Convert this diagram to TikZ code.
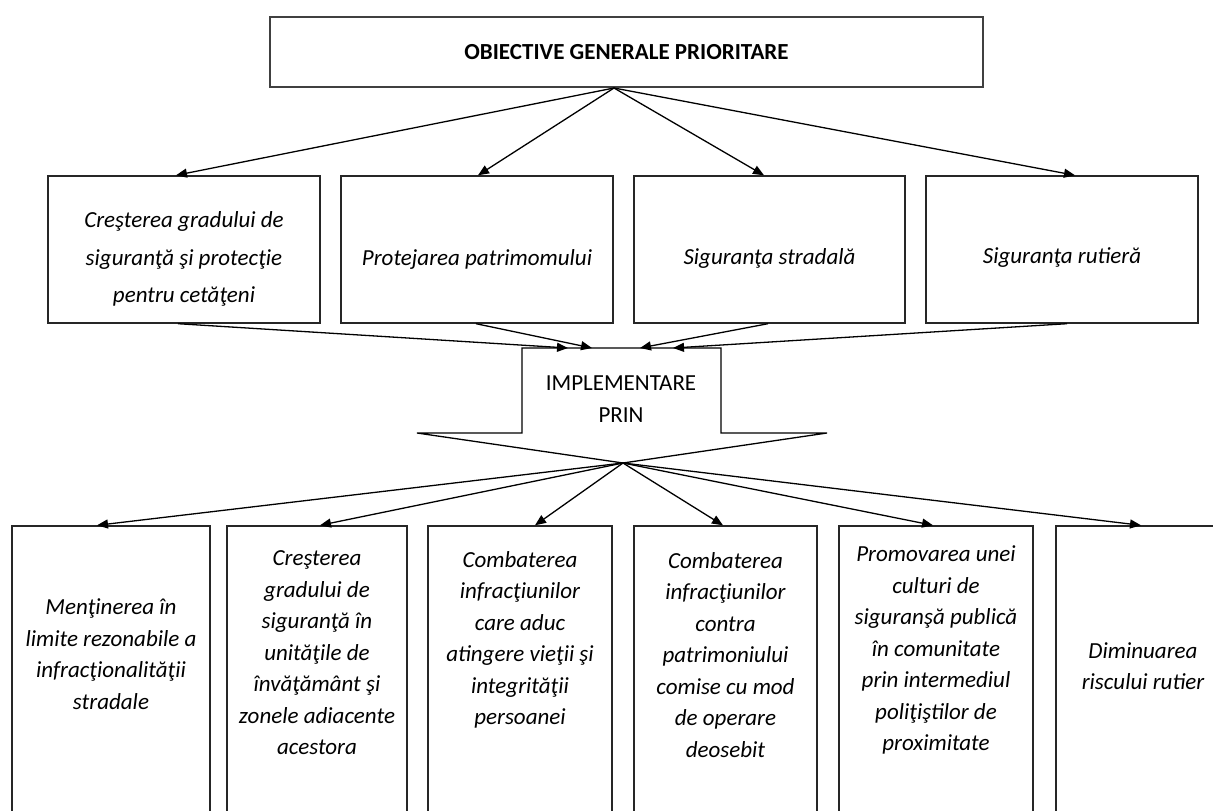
\documentclass[tikz,border=0pt]{standalone}
\usepackage{fontspec}
\setmainfont{Carlito}
\usetikzlibrary{arrows.meta}
\begin{document}
\begin{tikzpicture}[x=1pt,y=-1pt,
  box/.style={draw=black!85, line width=1.4pt, rectangle, inner sep=0pt},
  topbox/.style={draw=black!75, line width=2pt, rectangle, inner sep=0pt},
  lbl/.style={font=\fontsize{23}{37.5}\selectfont\itshape, align=center, inner sep=0pt},
  lbls/.style={font=\fontsize{23}{31.5}\selectfont\itshape, align=center, inner sep=0pt},
  arr/.style={-{Triangle[length=11pt,width=9pt]}, line width=1.3pt},
  ln/.style={line width=1.3pt, line join=miter}]
\useasboundingbox (0,0) rectangle (1213,811);
\clip (0,0) rectangle (1213,811);

% top box
\node[topbox, minimum width=713pt, minimum height=70pt,
      font=\fontsize{23}{28}\selectfont\bfseries] (top) at (626.5,52) {OBIECTIVE GENERALE PRIORITARE};

% level 2 boxes
\node[box, minimum width=272pt, minimum height=147pt] (g1) at (184,249.5) {};
\node[box, minimum width=272pt, minimum height=147pt] (g2) at (477,249.5) {};
\node[box, minimum width=271pt, minimum height=147pt] (g3) at (769.5,249.5) {};
\node[box, minimum width=272pt, minimum height=147pt] (g4) at (1062,249.5) {};
\node[lbl] (tg1) at (184,259) {Creşterea gradului de\\siguranţă şi protecţie\\pentru cetăţeni};
\node[lbl] (tg2) at (477,259) {Protejarea patrimomului};
\node[lbl] (tg3) at (769.5,258) {Siguranţa stradală};
\node[lbl] (tg4) at (1062,258) {Siguranţa rutieră};

\draw[arr] ([xshift=-12.5pt]top.south) -- ([xshift=-8pt]g1.north);
\draw[arr] ([xshift=-12.5pt]top.south) -- ([xshift=1pt]g2.north);
\draw[arr] ([xshift=-12.5pt]top.south) -- ([xshift=-5.5pt]g3.north);
\draw[arr] ([xshift=-12.5pt]top.south) -- ([xshift=13pt]g4.north);

% implementation arrow shape
\node[minimum width=199pt, minimum height=85pt, inner sep=0pt, outer sep=0pt] (imp) at (621.5,390.5) {};
\coordinate (sl) at (417,433);
\coordinate (sr) at (827,433);
\coordinate (tip) at (623,463);
\draw[ln] (imp.south west) -- (imp.north west) -- (imp.north east) -- (imp.south east)
  -- (sr) -- (tip) -- (sl) -- cycle;
\node[font=\fontsize{23}{32}\selectfont, align=center, inner sep=0pt] (timp) at (621,399) {IMPLEMENTARE\\PRIN};

\draw[arr] ([xshift=-6pt]g1.south) -- ([xshift=-53.5pt]imp.north);
\draw[arr] ([xshift=-1pt]g2.south) -- ([xshift=-29.5pt]imp.north);
\draw[arr] ([xshift=-1.5pt]g3.south) -- ([xshift=18.5pt]imp.north);
\draw[arr] ([xshift=5pt]g4.south) -- ([xshift=51.5pt]imp.north);

% bottom boxes
\node[box, minimum width=198pt, minimum height=304pt] (p1) at (111,678) {};
\node[box, minimum width=180pt, minimum height=304pt] (p2) at (317,678) {};
\node[box, minimum width=184pt, minimum height=304pt] (p3) at (520,678) {};
\node[box, minimum width=183pt, minimum height=304pt] (p4) at (725.5,678) {};
\node[box, minimum width=194pt, minimum height=304pt] (p5) at (936,678) {};
\node[box, minimum width=184pt, minimum height=304pt] (p6) at (1148,678) {};

\node[lbls] (tp1) at (111,654) {Menţinerea în\\limite rezonabile a\\infracţionalităţii\\stradale};
\node[lbls] (tp2) at (317,653) {Creşterea\\gradului de\\siguranţă în\\unităţile de\\învăţământ şi\\zonele adiacente\\acestora};
\node[lbls] (tp3) at (520,640) {Combaterea\\infracţiunilor\\care aduc\\atingere vieţii şi\\integrităţii\\persoanei};
\node[lbls] (tp4) at (725.5,655) {Combaterea\\infracţiunilor\\contra\\patrimoniului\\comise cu mod\\de operare\\deosebit};
\node[lbls] (tp5) at (936,650) {Promovarea unei\\culturi de\\siguranşă publică\\în comunitate\\prin intermediul\\poliţiştilor de\\proximitate};
\node[lbls] (tp6) at (1143,666) {Diminuarea\\riscului rutier};

\draw[arr] (tip) -- ([xshift=-14pt]p1.north);
\draw[arr] (tip) -- ([xshift=3pt]p2.north);
\draw[arr] (tip) -- ([xshift=15pt]p3.north);
\draw[arr] (tip) -- ([xshift=-2.5pt]p4.north);
\draw[arr] (tip) -- ([xshift=-3pt]p5.north);
\draw[arr] (tip) -- ([xshift=-7pt]p6.north);
\end{tikzpicture}
\end{document}
